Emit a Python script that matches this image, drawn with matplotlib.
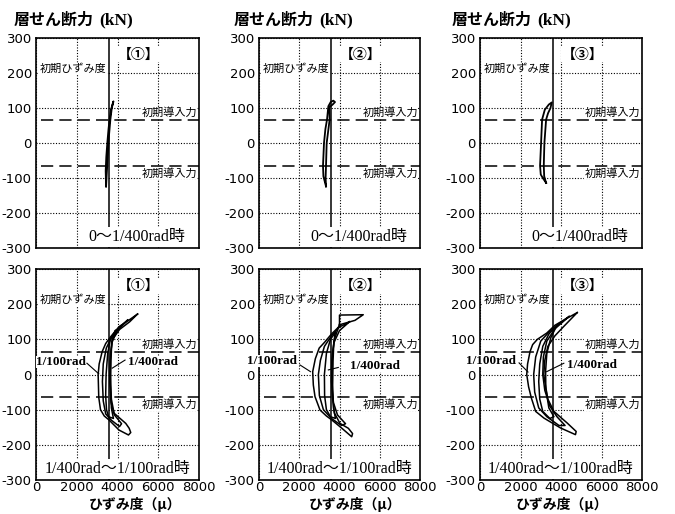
#!/usr/bin/env python

import matplotlib.pyplot as plt

plt.rcParams['font.family'] = ['DejaVu Sans', 'Noto Sans CJK JP']
plt.rcParams['axes.unicode_minus'] = False

SERIF = ['Liberation Serif', 'Noto Sans CJK JP']
GOTHIC = ['Noto Sans CJK JP', 'DejaVu Sans']

X_TICKS = [0, 2000, 4000, 6000, 8000]
Y_TICKS = [-300, -200, -100, 0, 100, 200, 300]
INITIAL_STRAIN = 3600   # 初期ひずみ度 (μ)
INITIAL_FORCE = 65      # 初期導入力 (kN)

PANEL_MARKS = ['【①】', '【②】', '【③】']
TOP_CAPTION = '0〜1/400rad時'
BOTTOM_CAPTION = '1/400rad〜1/100rad時'

# 0 - 1/400 rad loops
TOP1_X = [3440, 3420, 3450, 3500, 3560, 3610, 3680, 3800, 3720, 3650, 3580, 3520, 3470, 3440]
TOP1_Y = [-124, -80, -40, 0, 40, 67, 95, 119, 100, 67, 20, -40, -90, -124]

TOP2_X = [3330, 3200, 3180, 3230, 3300, 3380, 3446, 3562, 3694, 3777, 3661, 3495, 3510, 3440, 3363,
          3330, 3310, 3330]
TOP2_Y = [-124, -95, -65, 0, 40, 67, 105, 117, 121, 117, 110, 102, 67, 35, 0, -65, -100, -124]

TOP3_X = [3265, 3100, 3000, 2966, 3016, 3066, 3200, 3400, 3545, 3480, 3360, 3265, 3180, 3149, 3170, 3265]
TOP3_Y = [-114, -100, -90, -65, 0, 67, 95, 110, 116, 100, 85, 67, 0, -65, -95, -114]

# 1/400 - 1/100 rad loops (inner, middle, outer)
BOT1_A_X = [3900, 3650, 3520, 3440, 3420, 3460, 3560, 3800, 3700, 3660, 3680, 3720, 3900]
BOT1_A_Y = [125, 100, 60, 0, -60, -100, -120, -125, -95, -30, 40, 95, 125]
BOT1_B_X = [4500, 4100, 3700, 3450, 3300, 3260, 3300, 3420, 3700, 4100, 4200, 3850, 3680, 3620, 3640,
            3720, 3950, 4500]
BOT1_B_Y = [155, 135, 105, 75, 30, -20, -75, -112, -130, -148, -140, -115, -80, -20, 40, 90, 122, 155]
BOT1_C_X = [4985, 4570, 4075, 3660, 3420, 3247, 3100, 3050, 3080, 3165, 3350, 3580, 4075, 4540, 4650,
            4574, 4405, 3830, 3700, 3640, 3660, 3760, 4100, 4600, 4985]
BOT1_C_Y = [172, 155, 136, 107, 88, 65, 30, 0, -65, -100, -118, -129, -158, -172, -165, -153, -139,
            -110, -70, 0, 60, 100, 128, 150, 172]

BOT2_A_X = [3800, 3550, 3350, 3250, 3260, 3350, 3550, 3800, 3700, 3660, 3680, 3720, 3800]
BOT2_A_Y = [120, 100, 60, 0, -60, -100, -120, -125, -95, -30, 40, 95, 120]
BOT2_B_X = [4500, 4000, 3600, 3250, 3050, 2950, 3000, 3200, 3600, 4100, 4300, 3900, 3700, 3600, 3620,
            3720, 4000, 4500]
BOT2_B_Y = [150, 135, 110, 80, 40, 0, -60, -100, -125, -145, -140, -115, -80, -20, 40, 90, 125, 150]
BOT2_C_X = [4000, 4000, 5180, 4770, 4100, 3600, 3280, 2990, 2800, 2668, 2700, 2783, 3031, 3350, 3612,
            4100, 4607, 4650, 4440, 4025, 3750, 3640, 3620, 3650, 3750, 4000]
BOT2_C_Y = [143, 169, 170, 154, 143, 115, 93, 75, 45, 8, -30, -63, -101, -118, -129, -152, -177,
            -168, -153, -139, -110, -60, 0, 60, 100, 143]

BOT3_A_X = [3800, 3400, 3100, 2950, 2900, 2950, 3100, 3450, 3650, 3400, 3250, 3240, 3300, 3500, 3800]
BOT3_A_Y = [140, 115, 80, 30, -20, -70, -105, -125, -120, -95, -40, 10, 60, 105, 140]
BOT3_B_X = [4400, 3900, 3400, 3000, 2750, 2650, 2700, 2900, 3300, 3900, 4200, 3800, 3450, 3200, 3100,
            3130, 3300, 3700, 4400]
BOT3_B_Y = [165, 145, 120, 95, 50, 0, -50, -95, -120, -145, -145, -120, -90, -45, 0, 50, 95, 130, 165]
BOT3_C_X = [4800, 4300, 3700, 3300, 2833, 2600, 2470, 2350, 2308, 2400, 2537, 2750, 3159, 3977, 4714,
            4750, 4306, 3650, 3350, 3200, 3150, 3200, 3350, 3700, 4125, 4800]
BOT3_C_Y = [176, 160, 140, 118, 100, 85, 65, 30, 0, -35, -67, -105, -124, -152, -171, -162, -138,
            -105, -70, -20, 0, 40, 80, 110, 136, 176]

TOP_LOOPS = [[(TOP1_X, TOP1_Y)], [(TOP2_X, TOP2_Y)], [(TOP3_X, TOP3_Y)]]
BOT_LOOPS = [[(BOT1_A_X, BOT1_A_Y), (BOT1_B_X, BOT1_B_Y), (BOT1_C_X, BOT1_C_Y)],
             [(BOT2_A_X, BOT2_A_Y), (BOT2_B_X, BOT2_B_Y), (BOT2_C_X, BOT2_C_Y)],
             [(BOT3_A_X, BOT3_A_Y), (BOT3_B_X, BOT3_B_Y), (BOT3_C_X, BOT3_C_Y)]]

# label position, leader start, leader end for the 1/100rad and 1/400rad notes
RAD100_NOTES = [((1250, 36), (2500, 32), (3080, 2)),
                ((650, 39), (2040, 27), (2560, 8)),
                ((520, 39), (1930, 33), (2370, 7))]
RAD400_NOTES = [((5730, 35), (4370, 41), (3740, 18)),
                ((5750, 25), (3940, 20), (3445, 13)),
                ((5520, 27), (4140, 32), (3290, 8))]

# figure layout in pixels of a 675x514 canvas
W, H = 675.0, 514.0
COL_LEFT = [36, 259, 480]
COL_WIDTH = [163, 161, 162]
ROW_TOP = [38, 269]
ROW_HEIGHT = [210, 211]


def setup_axes(ax, bottom_row):
    ax.set_xlim(0, 8000)
    ax.set_ylim(-300, 300)
    ax.set_xticks(X_TICKS)
    ax.set_yticks(Y_TICKS)
    ax.grid(True, linestyle=(0, (1, 1.5)), color='k', linewidth=0.8)
    ax.tick_params(length=0, pad=3, labelsize=9.5)
    if bottom_row:
        ax.tick_params(axis='x', labelsize=9.5, pad=1)
    else:
        ax.set_xticklabels([])
    for s in ax.spines.values():
        s.set_linewidth(1.2)

    ax.axvline(INITIAL_STRAIN, color='k', lw=1.1, zorder=3)
    for f in (INITIAL_FORCE, -INITIAL_FORCE):
        ax.plot([250, 8000], [f, f], color='k', lw=1.1, dashes=(8, 4), zorder=3)

    white = dict(facecolor='white', edgecolor='none', pad=0.3)
    ax.text(180, 212, '初期ひずみ度', family=GOTHIC, fontsize=8, va='center', ha='left',
            bbox=white, zorder=4)
    ax.text(7900, 86, '初期導入力', family=GOTHIC, fontsize=8, va='center', ha='right',
            bbox=white, zorder=4)
    ax.text(7900, -86, '初期導入力', family=GOTHIC, fontsize=8, va='center', ha='right',
            bbox=white, zorder=4)


def draw_panel(ax, col, bottom_row):
    setup_axes(ax, bottom_row)
    loops = BOT_LOOPS[col] if bottom_row else TOP_LOOPS[col]
    for xs, ys in loops:
        ax.plot(xs, ys, color='k', lw=1.1 if bottom_row else 1.3, zorder=5)

    ax.text(5050, 252, PANEL_MARKS[col], family=GOTHIC, fontsize=10, fontweight='bold',
            ha='center', va='center', bbox=dict(facecolor='white', edgecolor='none', pad=0.5),
            zorder=6)

    caption = BOTTOM_CAPTION if bottom_row else TOP_CAPTION
    cx = 4000 if bottom_row else 4950
    ax.text(cx, -268, caption, family=SERIF, fontsize=11.5, ha='center', va='center',
            bbox=dict(facecolor='white', edgecolor='none', pad=1.5), zorder=6)

    if bottom_row:
        for note, text in ((RAD100_NOTES[col], '1/100rad'), (RAD400_NOTES[col], '1/400rad')):
            (tx, ty), p0, p1 = note
            ax.text(tx, ty, text, family=SERIF, fontsize=9.5, fontweight='bold',
                    ha='center', va='center', clip_on=False, zorder=7,
                    bbox=dict(facecolor='white', edgecolor='none', pad=0.2))
            ax.plot([p0[0], p1[0]], [p0[1], p1[1]], color='k', lw=0.8, zorder=7, clip_on=False)


if __name__ == '__main__':
    fig = plt.figure(figsize=(6.75, 5.14), dpi=100)

    for row in range(2):
        for col in range(3):
            rect = [COL_LEFT[col] / W, 1 - (ROW_TOP[row] + ROW_HEIGHT[row]) / H,
                    COL_WIDTH[col] / W, ROW_HEIGHT[row] / H]
            ax = fig.add_axes(rect)
            draw_panel(ax, col, row == 1)

    # axis titles
    for x0 in (14, 234, 452):
        fig.text(x0 / W, 1 - 20 / H, '層せん断力', family=GOTHIC, fontsize=11.5,
                 fontweight='bold', va='center', ha='left')
        fig.text((x0 + 85) / W, 1 - 20 / H, '(kN)', family=SERIF, fontsize=12.5,
                 fontweight='bold', va='center', ha='left')
    for xc in (135, 355, 562):
        fig.text(xc / W, 1 - 504 / H, 'ひずみ度（μ）', family=GOTHIC, fontsize=10,
                 fontweight='bold', va='center', ha='center')

    fig.savefig('out.png', dpi=100)
